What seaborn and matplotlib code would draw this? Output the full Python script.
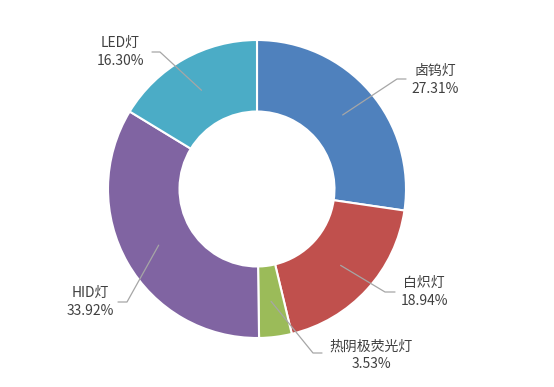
import numpy as np
import matplotlib
matplotlib.use("Agg")
import matplotlib.pyplot as plt
import seaborn as sns

# data
names = ["卤钨灯", "白炽灯", "热阴极荧光灯", "HID灯", "LED灯"]
shares = [27.31, 18.94, 3.53, 33.92, 16.30]
colors = ["#4F81BD", "#C0504D", "#9BBB59", "#8064A2", "#4BACC6"]

# label block centres and leader elbows (pixel layout, y from top)
label_xy = [(435, 80), (424, 292), (371, 355), (90, 302), (120, 52)]
elbow_xy = [(397, 79), (385, 292), (313, 353), (127, 302), (160, 52)]
end_xy = [(406, 79), (395, 292), (322, 353), (118, 302), (152, 52)]

W, H = 554, 387
sns.set_theme(style="white")
plt.rcParams["font.family"] = ["Noto Sans CJK SC", "DejaVu Sans"]

fig = plt.figure(figsize=(W / 100, H / 100), dpi=100)
ax = fig.add_axes([0, 0, 1, 1])

cx, cy, r_out = 257, H - 189, 149
ring = 0.48
wedges, _ = ax.pie(shares, colors=colors, startangle=90, counterclock=False,
                   radius=r_out, center=(cx, cy),
                   wedgeprops=dict(width=r_out * ring, edgecolor="white", linewidth=1.5))
ax.set_xlim(0, W)
ax.set_ylim(0, H)
ax.set_aspect("equal")
ax.axis("off")

r_mid = r_out * (1 - ring / 2)
for i, w in enumerate(wedges):
    ang = np.deg2rad((w.theta1 + w.theta2) / 2)
    sx, sy = cx + r_mid * np.cos(ang), cy + r_mid * np.sin(ang)
    ex, ey = elbow_xy[i]
    tx, ty = end_xy[i]
    ax.plot([sx, ex, tx], [sy, H - ey, H - ty], color="#A6A6A6", lw=0.9, zorder=5)
    lx, ly = label_xy[i]
    ax.text(lx, H - ly, f"{names[i]}\n{shares[i]:.2f}%", ha="center", va="center",
            fontsize=10, color="#404040", linespacing=1.3)

fig.savefig("out.png", dpi=100)
